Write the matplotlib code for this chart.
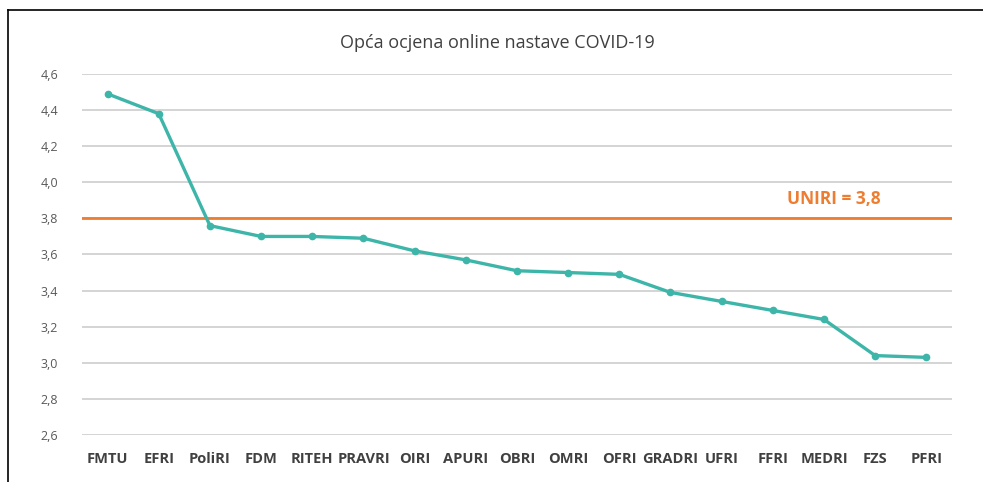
import matplotlib
matplotlib.use("Agg")
import matplotlib.pyplot as plt
from matplotlib.lines import Line2D
from matplotlib.ticker import FuncFormatter

# data
faculties = ["FMTU", "EFRI", "PoliRI", "FDM", "RITEH", "PRAVRI", "OIRI", "APURI",
             "OBRI", "OMRI", "OFRI", "GRADRI", "UFRI", "FFRI", "MEDRI", "FZS", "PFRI"]
scores = [4.49, 4.38, 3.76, 3.70, 3.70, 3.69, 3.62, 3.57,
          3.51, 3.50, 3.49, 3.39, 3.34, 3.29, 3.24, 3.04, 3.03]
uniri_avg = 3.8
y_ticks = [2.6, 2.8, 3.0, 3.2, 3.4, 3.6, 3.8, 4.0, 4.2, 4.4, 4.6]

plt.rcParams['font.family'] = ['Open Sans', 'DejaVu Sans']

teal = "#3db5a9"
orange = "#ed7d31"
grey_txt = "#595959"

fig = plt.figure(figsize=(9.83, 4.82), dpi=100)
ax = fig.add_axes([0.0834, 0.0975, 0.885, 0.749])

x = list(range(len(faculties)))
ax.plot(x, scores, color=teal, lw=2.4, marker='o', ms=4.5, zorder=3)
ax.axhline(uniri_avg, color=orange, lw=2.0, zorder=2)
ax.text(14.2, 3.91, "UNIRI = 3,8", color=orange, fontsize=12.5,
        fontweight='bold', ha='center', va='center')

ax.set_xlim(-0.5, len(faculties) - 0.5)
ax.set_ylim(2.6, 4.6)
ax.set_yticks(y_ticks)
ax.yaxis.set_major_formatter(FuncFormatter(lambda v, p: ("%.1f" % v).replace(".", ",")))
ax.set_xticks(x)
ax.set_xticklabels(faculties, fontweight='bold', fontsize=10.5, color="#404040")
ax.tick_params(axis='x', length=0, pad=12)
ax.tick_params(axis='y', length=0, pad=17, labelsize=9, labelcolor=grey_txt)
ax.grid(axis='y', color="#d4d4d4", lw=1.4, zorder=0)
ax.set_axisbelow(True)
for s in ax.spines.values():
    s.set_visible(False)

fig.text(0.506, 0.91, "Opća ocjena online nastave COVID-19", ha='center',
         va='center', fontsize=13, color="#404040")

# outer frame (partly cropped in the original)
fig.add_artist(Line2D([8 / 983, 1], [1 - 10 / 482, 1 - 10 / 482], color='black', lw=1.2))
fig.add_artist(Line2D([8 / 983, 8 / 983], [0, 1 - 10 / 482], color='black', lw=1.2))

fig.savefig("out.png", dpi=100)
